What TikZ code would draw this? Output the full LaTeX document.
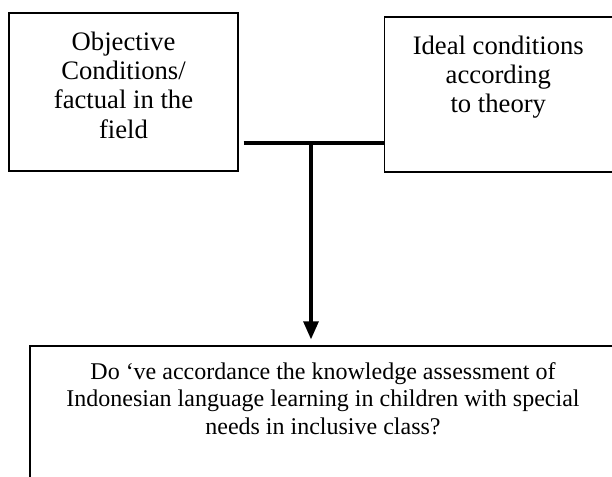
\documentclass[tikz,border=0pt]{standalone}
\usepackage{fontspec}
\setmainfont{Liberation Serif}
\usepackage{tikz}
\usetikzlibrary{arrows.meta,positioning,calc}
\tikzstyle{boxnode} = [rectangle, draw=black, line width=1pt]
\tikzstyle{labelnode} = [inner sep=0pt, align=center, font=\fontsize{20}{22}\selectfont]
\tikzstyle{joinline} = [line width=2.4pt]
\tikzstyle{flowarrow} = [line width=2.3pt, -{Triangle[length=13.5pt,width=11.25pt]}]

\begin{document}
\begin{tikzpicture}[x=0.75pt, y=-0.75pt]
\useasboundingbox (0,0) rectangle (612,477);
\clip (0,0) rectangle (612,477);

% the two starting boxes
\node[boxnode, minimum width=171.75pt, minimum height=118.5pt] (objective) at (123.5,92) {};
\node[boxnode, minimum width=174.75pt, minimum height=116.25pt, right=108.75pt of objective, yshift=-1.9pt] (ideal) {};
\node[labelnode, below=14.25pt of objective.north] (objectivetext) {Objective\\Conditions/\\factual in the\\field};
\node[labelnode, below=14.25pt of ideal.north, xshift=-1.9pt] (idealtext) {Ideal conditions\\according\\to theory};

% the question box (runs off the page)
\node[boxnode, minimum width=439.5pt, minimum height=108pt] (question) at (323,418) {};
\node[labelnode, font=\fontsize{18}{20.6}\selectfont, below=12.75pt of question.north] (questiontext) {Do ‘ve accordance the knowledge assessment of\\Indonesian language learning in children with special\\needs in inclusive class?};

% connectors
\coordinate (tee) at (311,143);
\draw[joinline] ($(objective.east |- tee)+(5,0)$) -- (ideal.west |- tee);
\draw[flowarrow] (tee) -- ($(question.north -| tee)+(0,-6)$);
\end{tikzpicture}
\end{document}
